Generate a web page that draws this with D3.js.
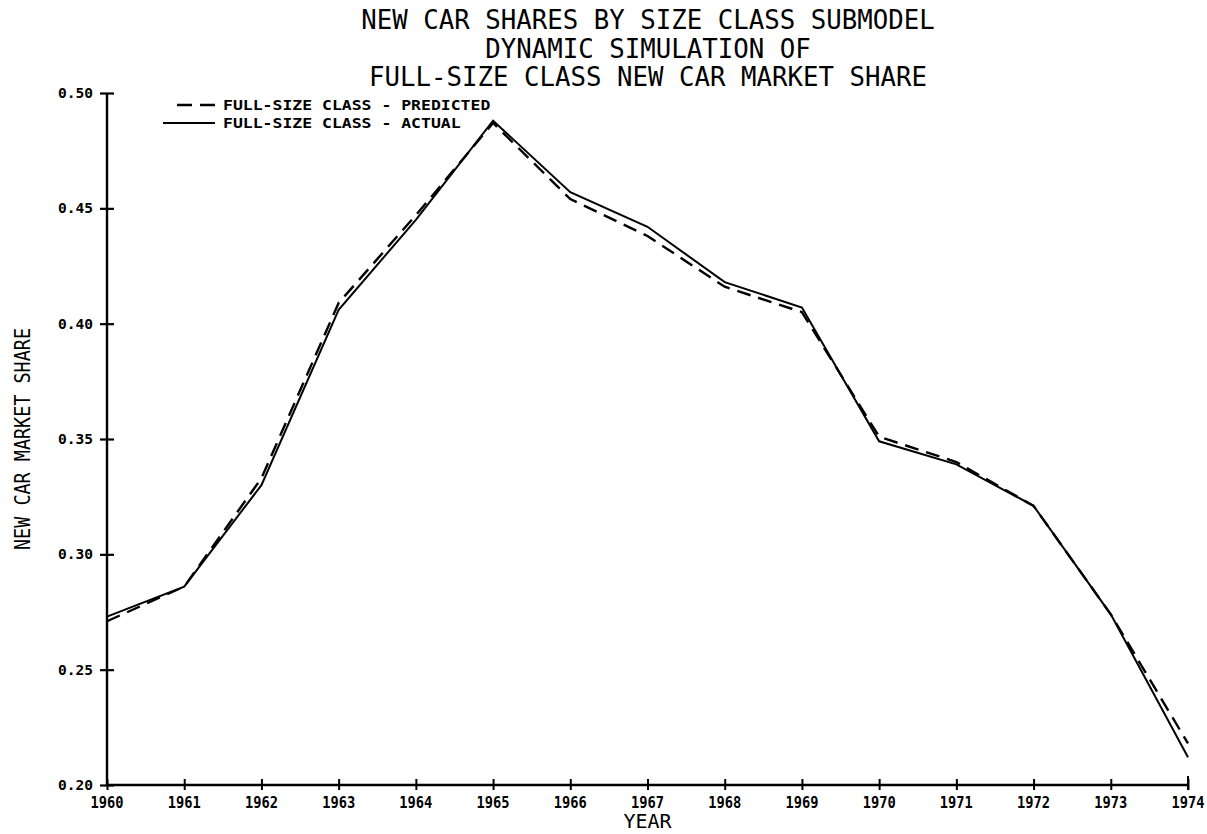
<!DOCTYPE html>
<html>
<head>
<meta charset="utf-8">
<script src="https://cdn.jsdelivr.net/npm/d3@7"></script>
<style>
  body { margin: 0; background: #fff; }
  svg { display: block; }
</style>
</head>
<body>
<div id="chart"></div>
<script>
// chart data
var years = [1960, 1961, 1962, 1963, 1964, 1965, 1966, 1967, 1968, 1969, 1970, 1971, 1972, 1973, 1974];
var predicted = [0.271, 0.286, 0.333, 0.409, 0.447, 0.487, 0.454, 0.438, 0.416, 0.405, 0.351, 0.340, 0.321, 0.274, 0.218];
var actual = [0.273, 0.286, 0.330, 0.406, 0.445, 0.488, 0.457, 0.442, 0.418, 0.407, 0.349, 0.339, 0.321, 0.274, 0.212];
var yTicks = [0.20, 0.25, 0.30, 0.35, 0.40, 0.45, 0.50];
var yTickLabels = ["0.20", "0.25", "0.30", "0.35", "0.40", "0.45", "0.50"];
var titleLines = ["NEW CAR SHARES BY SIZE CLASS SUBMODEL", "DYNAMIC SIMULATION OF", "FULL-SIZE CLASS NEW CAR MARKET SHARE"];
var legendLabels = ["FULL-SIZE CLASS - PREDICTED", "FULL-SIZE CLASS - ACTUAL"];

var svgWidth = 1207;
var svgHeight = 834;

var margin = {
  top: 93,
  right: 19,
  bottom: 49,
  left: 107
};

var width = svgWidth - margin.left - margin.right;
var height = svgHeight - margin.top - margin.bottom;

var svg = d3.select("#chart")
  .append("svg")
  .attr("width", svgWidth)
  .attr("height", svgHeight);

var chartGroup = svg.append("g")
  .attr("transform", `translate(${margin.left}, ${margin.top})`);

var mono = "'DejaVu Sans Mono', 'Liberation Mono', monospace";

// scales
var xScale = d3.scaleLinear()
  .domain([1960, 1974])
  .range([0, width]);

var yScale = d3.scaleLinear()
  .domain([0.20, 0.50])
  .range([height, 0]);

// y axis: ticks cross the line
var leftAxis = d3.axisLeft(yScale)
  .tickValues(yTicks)
  .tickSize(7)
  .tickFormat("");

var yAxis = chartGroup.append("g").call(leftAxis);
yAxis.select(".domain").remove();
yAxis.selectAll(".tick line")
  .attr("x1", -7).attr("x2", 7)
  .attr("stroke", "#000").attr("stroke-width", 2.2);

chartGroup.append("line")
  .attr("x1", 0).attr("x2", 0)
  .attr("y1", yScale(0.50)).attr("y2", yScale(0.20))
  .attr("stroke", "#000").attr("stroke-width", 2.4);

chartGroup.selectAll(".ylabel")
  .data(yTicks)
  .enter()
  .append("text")
  .attr("class", "ylabel")
  .attr("x", -14)
  .attr("y", d => yScale(d) + 5)
  .attr("text-anchor", "end")
  .attr("font-family", mono)
  .attr("font-weight", "bold")
  .attr("font-size", "14px")
  .attr("textLength", 35)
  .attr("lengthAdjust", "spacingAndGlyphs")
  .text((d, i) => yTickLabels[i]);

// x axis
var bottomAxis = d3.axisBottom(xScale)
  .tickValues(years)
  .tickSize(5)
  .tickFormat("");

var xAxis = chartGroup.append("g")
  .attr("transform", `translate(0, ${height})`)
  .call(bottomAxis);
xAxis.select(".domain").remove();
xAxis.selectAll(".tick line")
  .attr("y1", -6).attr("y2", 5)
  .attr("stroke", "#000").attr("stroke-width", 2);

chartGroup.append("line")
  .attr("x1", 0).attr("x2", width)
  .attr("y1", height).attr("y2", height)
  .attr("stroke", "#000").attr("stroke-width", 2.6);

chartGroup.append("line")
  .attr("x1", width).attr("x2", width)
  .attr("y1", height - 9).attr("y2", height + 5)
  .attr("stroke", "#000").attr("stroke-width", 2);

chartGroup.selectAll(".xlabel")
  .data(years)
  .enter()
  .append("text")
  .attr("class", "xlabel")
  .attr("x", d => xScale(d))
  .attr("y", height + 23)
  .attr("text-anchor", "middle")
  .attr("font-family", mono)
  .attr("font-weight", "bold")
  .attr("font-size", "16px")
  .attr("textLength", 33)
  .attr("lengthAdjust", "spacingAndGlyphs")
  .text(d => d);

// axis titles
chartGroup.append("text")
  .attr("x", width / 2)
  .attr("y", height + 43)
  .attr("text-anchor", "middle")
  .attr("font-family", mono)
  .attr("font-size", "19px")
  .attr("textLength", 48)
  .attr("lengthAdjust", "spacingAndGlyphs")
  .text("YEAR");

chartGroup.append("text")
  .attr("transform", "rotate(-90)")
  .attr("x", -height / 2)
  .attr("y", -77)
  .attr("text-anchor", "middle")
  .attr("font-family", mono)
  .attr("font-size", "21px")
  .attr("textLength", 222)
  .attr("lengthAdjust", "spacingAndGlyphs")
  .text("NEW CAR MARKET SHARE");

// title
svg.selectAll(".title")
  .data(titleLines)
  .enter()
  .append("text")
  .attr("class", "title")
  .attr("x", 648)
  .attr("y", (d, i) => 29 + i * 28.5)
  .attr("text-anchor", "middle")
  .attr("font-family", mono)
  .attr("font-size", "27px")
  .attr("textLength", d => d.length * 15.5)
  .attr("lengthAdjust", "spacingAndGlyphs")
  .text(d => d);

// lines
var line = d3.line()
  .x(d => xScale(d[0]))
  .y(d => yScale(d[1]));

chartGroup.append("path")
  .datum(years.map((y, i) => [y, actual[i]]))
  .attr("d", line)
  .attr("fill", "none")
  .attr("stroke", "#000")
  .attr("stroke-width", 2);

chartGroup.append("path")
  .datum(years.map((y, i) => [y, predicted[i]]))
  .attr("d", line)
  .attr("fill", "none")
  .attr("stroke", "#000")
  .attr("stroke-width", 2.4)
  .attr("stroke-dasharray", "14,8");

// legend
var legend = svg.append("g");

legend.append("line")
  .attr("x1", 177).attr("x2", 215)
  .attr("y1", 105).attr("y2", 105)
  .attr("stroke", "#000").attr("stroke-width", 2.4)
  .attr("stroke-dasharray", "15,8");

legend.append("line")
  .attr("x1", 163).attr("x2", 215)
  .attr("y1", 123).attr("y2", 123)
  .attr("stroke", "#000").attr("stroke-width", 2);

legend.selectAll(".legtext")
  .data(legendLabels)
  .enter()
  .append("text")
  .attr("class", "legtext")
  .attr("x", 223)
  .attr("y", (d, i) => 110 + i * 18)
  .attr("font-family", mono)
  .attr("font-weight", "bold")
  .attr("font-size", "14px")
  .attr("textLength", d => d.length * 9.9)
  .attr("lengthAdjust", "spacingAndGlyphs")
  .text(d => d);
</script>
</body>
</html>
